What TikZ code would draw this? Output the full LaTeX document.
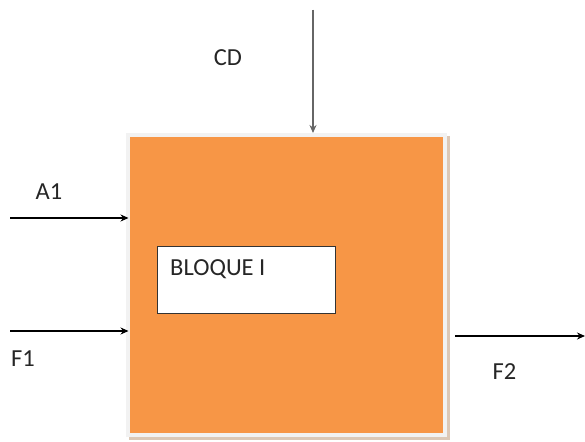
\documentclass[tikz,border=0pt]{standalone}
\usepackage{fontspec}
\setmainfont{Carlito}
\usetikzlibrary{arrows.meta}
\definecolor{boxorange}{HTML}{F79646}
\definecolor{framegray}{HTML}{F2F2F2}
\definecolor{shadowtan}{HTML}{DCC8B6}
\begin{document}
\begin{tikzpicture}[x=1pt,y=-1pt,
  lbl/.style={font=\fontsize{24.5}{28}\selectfont, text=black!85, inner sep=0pt},
  flow/.style={line width=1.4pt, -{Stealth[length=8pt,width=7pt]}},
  ]
\useasboundingbox (0,0) rectangle (585,441);
% block with frame and shadow
\fill[shadowtan] (129,136) rectangle (450,440);
\node[fill=framegray, minimum width=321pt, minimum height=304pt, inner sep=0pt, anchor=north west] (frame) at (126,133) {};
\node[fill=boxorange, minimum width=313pt, minimum height=296pt, inner sep=0pt, anchor=north west] (blk) at (130,137) {};
% inner box
\node[draw=black!80, line width=1pt, fill=white, minimum width=178pt, minimum height=67pt, inner sep=0pt, anchor=north west] (inner) at (157,245.5) {};
\node[lbl, anchor=base west] (bt) at (170,275.3) {BLOQUE I};
% labels
\node[lbl] (a1) at (49,192) {A1};
\node[lbl] (f1) at (23,358.5) {F1};
\node[lbl] (f2) at (504.5,371.7) {F2};
\node[lbl] (cd) at (228,57.5) {CD};
% arrows
\coordinate (a1s) at (10,218);
\coordinate (a1e) at (128.5,218);
\coordinate (f1s) at (10,331);
\coordinate (f1e) at (128.5,331);
\coordinate (f2s) at (455,336);
\coordinate (f2e) at (585,336);
\coordinate (cds) at (313,10);
\coordinate (cde) at (313,133);
\draw[flow] (a1s) -- (a1e);
\draw[flow] (f1s) -- (f1e);
\draw[flow] (f2s) -- (f2e);
\draw[flow, draw=black!60, fill=black] (cds) -- (cde);
\end{tikzpicture}
\end{document}
